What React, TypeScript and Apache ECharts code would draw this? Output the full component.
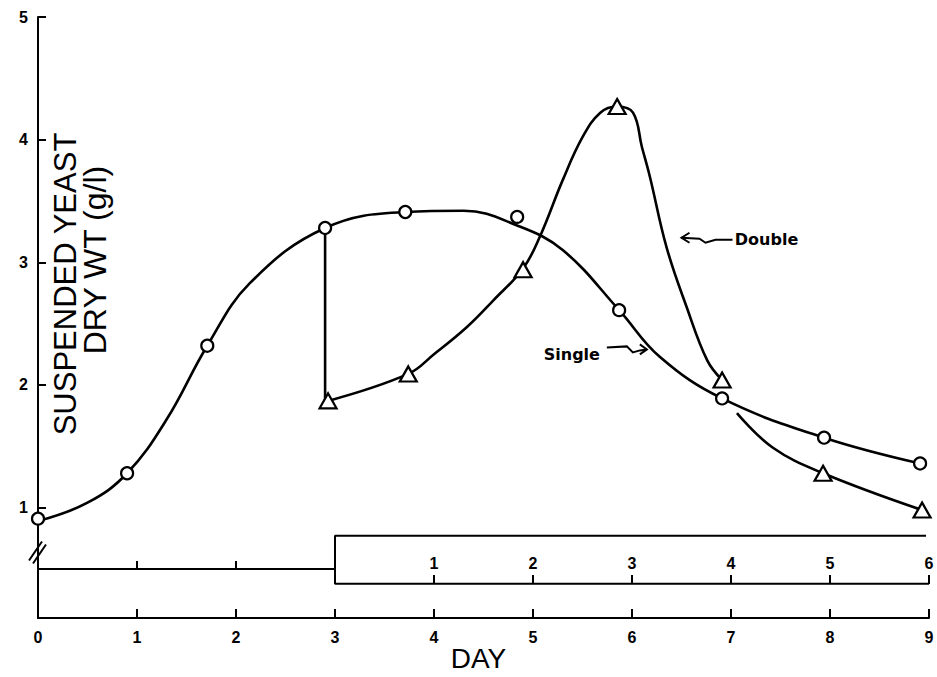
import React, { useEffect, useRef } from "react";
import * as echarts from "echarts";

// ---- tick labels ----
const dayTicks = [0, 1, 2, 3, 4, 5, 6, 7, 8, 9];
const afterTransferTicks = [4, 5, 6, 7, 8, 9];
const afterTransferLabels = ["1", "2", "3", "4", "5", "6"];
const preTransferTicks = [1, 2];
const yTickLabels = ["1", "2", "3", "4", "5"];

// ---- Single fermentation: observations (circles) ----
const singleObsDays = [0, 0.9, 1.71, 2.9, 3.71, 4.84, 5.87, 6.91, 7.94, 8.91];
const singleObsValues = [0.91, 1.28, 2.32, 3.28, 3.41, 3.37, 2.61, 1.89, 1.57, 1.36];

// ---- Single fermentation: drawn curve ----
const singleCurveDays = [0, 0.5, 0.9, 1.3, 1.71, 2.14, 2.9, 3.71, 4.3, 4.84, 5.3, 5.87, 6.28, 6.91, 7.94, 8.91];
const singleCurveValues = [0.89, 1.04, 1.28, 1.72, 2.32, 2.83, 3.28, 3.41, 3.42, 3.3, 3.1, 2.61, 2.23, 1.89, 1.57, 1.36];

// ---- Double fermentation: observations (triangles) ----
const doubleObsDays = [2.93, 3.74, 4.9, 5.85, 6.91, 7.93, 8.93];
const doubleObsValues = [1.87, 2.09, 2.94, 4.27, 2.04, 1.28, 0.98];

// ---- Double fermentation: drawn curve, first part ----
const doubleCurveADays = [2.93, 3.74, 4.0, 4.33, 4.6, 4.9, 5.07, 5.3, 5.5, 5.68, 5.85, 6.01, 6.1, 6.18, 6.35, 6.55, 6.76, 6.91];
const doubleCurveAValues = [1.87, 2.09, 2.25, 2.47, 2.69, 2.95, 3.21, 3.67, 4.02, 4.22, 4.27, 4.22, 3.94, 3.7, 3.12, 2.64, 2.2, 2.04];

// ---- Double fermentation: drawn curve, second part ----
const doubleCurveBDays = [7.06, 7.42, 7.93, 8.93];
const doubleCurveBValues = [1.77, 1.49, 1.28, 0.98];

// ---- Transfer (drop) at day 2.9 ----
const dropDays = [2.9, 2.9];
const dropValues = [3.28, 1.87];

// ---- schematic of the time scale below the break (axis units) ----
const transferDay = 3;
const preTransferLevel = 0.5;
const boxTopLevel = 0.77;
const boxBottomLevel = 0.38;

const yMin = 0.1;
const yMax = 5;
const gridBox = { left: 38, top: 17, width: 891, height: 601 };
const pxPerUnit = gridBox.height / (yMax - yMin);

const zip = (a: number[], b: number[]) => a.map((x, i) => [x, b[i]]);

export default function App() {
  const ref = useRef<HTMLDivElement>(null);
  useEffect(() => {
    if (!ref.current) return;
    const chart = echarts.init(ref.current, null, { renderer: "svg" });
    const black = "#000";
    const tickFont = {
      color: black,
      fontFamily: "Liberation Sans",
      fontWeight: "bold" as const,
      fontSize: 16,
    };
    const curveStyle = { color: black, width: 2.6 };
    const innerOffset = -Math.round((boxBottomLevel - yMin) * pxPerUnit);
    const preOffset = -Math.round((preTransferLevel - yMin) * pxPerUnit);

    const option: any = {
      animation: false,
      backgroundColor: "#fff",
      grid: { ...gridBox, outerBoundsMode: "none" },
      xAxis: [
        {
          type: "value",
          min: 0,
          max: 9,
          interval: 1,
          position: "bottom",
          axisLine: { onZero: false, lineStyle: { color: black, width: 2 } },
          axisTick: { inside: true, length: 9, lineStyle: { color: black, width: 2 } },
          axisLabel: {
            ...tickFont,
            margin: 11,
            formatter: (v: number) => String(dayTicks[Math.round(v)]),
          },
          splitLine: { show: false },
        },
        {
          type: "value",
          min: 0,
          max: 9,
          position: "bottom",
          offset: innerOffset,
          axisLine: { show: false, onZero: false },
          axisTick: {
            inside: true,
            length: 9,
            customValues: afterTransferTicks,
            lineStyle: { color: black, width: 2 },
          },
          axisLabel: {
            ...tickFont,
            inside: true,
            margin: 13,
            customValues: afterTransferTicks,
            formatter: (v: number) => afterTransferLabels[afterTransferTicks.indexOf(Math.round(v))] ?? "",
          },
          splitLine: { show: false },
        },
        {
          type: "value",
          min: 0,
          max: 9,
          position: "bottom",
          offset: preOffset,
          axisLine: { show: false, onZero: false },
          axisTick: {
            inside: true,
            length: 8,
            customValues: preTransferTicks,
            lineStyle: { color: black, width: 2 },
          },
          axisLabel: { show: false },
          splitLine: { show: false },
        },
      ],
      yAxis: {
        type: "value",
        min: yMin,
        max: yMax,
        splitNumber: 5,
        axisLine: { onZero: false, lineStyle: { color: black, width: 2 } },
        axisTick: { inside: true, length: 8, lineStyle: { color: black, width: 2 } },
        axisLabel: {
          ...tickFont,
          margin: 10,
          showMinLabel: false,
          formatter: (v: number) =>
            Math.abs(v - Math.round(v)) < 1e-6 ? yTickLabels[Math.round(v) - 1] ?? "" : "",
        },
        splitLine: { show: false },
      },
      series: [
        {
          name: "time scale before transfer",
          type: "line",
          silent: true,
          symbol: "none",
          lineStyle: { color: black, width: 2 },
          data: [
            [0, preTransferLevel],
            [transferDay, preTransferLevel],
          ],
          z: 1,
        },
        {
          name: "time scale after transfer",
          type: "line",
          silent: true,
          symbol: "none",
          lineStyle: { color: black, width: 2 },
          data: [
            [8.97, boxTopLevel],
            [transferDay, boxTopLevel],
            [transferDay, boxBottomLevel],
            [9, boxBottomLevel],
          ],
          z: 1,
        },
        {
          name: "Single curve",
          type: "line",
          smooth: 0.4,
          symbol: "none",
          lineStyle: curveStyle,
          data: zip(singleCurveDays, singleCurveValues),
          z: 2,
        },
        {
          name: "Transfer",
          type: "line",
          symbol: "none",
          lineStyle: curveStyle,
          data: zip(dropDays, dropValues),
          z: 2,
        },
        {
          name: "Double curve",
          type: "line",
          smooth: 0.4,
          symbol: "none",
          lineStyle: curveStyle,
          data: zip(doubleCurveADays, doubleCurveAValues),
          z: 2,
        },
        {
          name: "Double curve 2",
          type: "line",
          smooth: 0.4,
          symbol: "none",
          lineStyle: curveStyle,
          data: zip(doubleCurveBDays, doubleCurveBValues),
          z: 2,
        },
        {
          name: "Single",
          type: "scatter",
          symbol: "circle",
          symbolSize: 12,
          itemStyle: { color: "#fff", borderColor: black, borderWidth: 2.2, opacity: 1 },
          data: zip(singleObsDays, singleObsValues),
          z: 5,
        },
        {
          name: "Double",
          type: "scatter",
          symbol: "triangle",
          symbolSize: [17, 15],
          itemStyle: { color: "#fff", borderColor: black, borderWidth: 2.2, opacity: 1 },
          data: zip(doubleObsDays, doubleObsValues),
          z: 5,
        },
      ],
    };
    chart.setOption(option);

    const px = (d: number, v: number) =>
      chart.convertToPixel({ xAxisIndex: 0, yAxisIndex: 0 }, [d, v]) as number[];
    const lineStyle = { stroke: black, lineWidth: 2, fill: null };
    const rel = (o: number[], pts: number[][]) => pts.map(([x, y]) => [o[0] + x, o[1] + y]);

    const sTip = px(6.15, 2.29);
    const dTip = px(6.5, 3.2);
    const brk = px(0, 0.65);
    const dayPos = px(4.45, yMin);
    const labelFont = { fontFamily: "DejaVu Sans", fontWeight: "bold", fontSize: 16 };
    const centered = {
      align: "center",
      verticalAlign: "middle",
      textAlign: "center",
      textVerticalAlign: "middle",
    };

    chart.setOption({
      graphic: [
        {
          type: "text",
          x: dayPos[0],
          y: dayPos[1] + 40,
          style: {
            text: "DAY",
            fill: black,
            fontFamily: "Liberation Sans",
            fontSize: 28,
            ...centered,
          },
        },
        {
          type: "text",
          x: 65,
          y: 284,
          rotation: Math.PI / 2,
          style: {
            text: "SUSPENDED YEAST",
            fill: black,
            fontFamily: "Liberation Sans",
            fontSize: 31,
            ...centered,
          },
        },
        {
          type: "text",
          x: 95,
          y: 260,
          rotation: Math.PI / 2,
          style: {
            text: "DRY WT (g/l)",
            fill: black,
            fontFamily: "Liberation Sans",
            fontSize: 32,
            ...centered,
          },
        },
        {
          type: "text",
          x: sTip[0] - 75,
          y: sTip[1] + 5,
          style: { text: "Single", fill: black, ...labelFont, ...centered },
        },
        {
          type: "polyline",
          shape: { points: rel(sTip, [[-40, -2], [-20, -3], [-14, 3], [-7, 1], [0, 0]]) },
          style: lineStyle,
        },
        {
          type: "polyline",
          shape: { points: rel(sTip, [[-7, -5], [0, 0], [-7, 5]]) },
          style: lineStyle,
        },
        {
          type: "text",
          x: dTip[0] + 85,
          y: dTip[1] + 2,
          style: { text: "Double", fill: black, ...labelFont, ...centered },
        },
        {
          type: "polyline",
          shape: { points: rel(dTip, [[0, 0], [18, 1], [24, 5], [34, 2], [51, 2]]) },
          style: lineStyle,
        },
        {
          type: "polyline",
          shape: { points: rel(dTip, [[8, -5], [0, 0], [8, 5]]) },
          style: lineStyle,
        },
        {
          type: "line",
          shape: { x1: brk[0] - 9, y1: brk[1] + 10, x2: brk[0] + 4, y2: brk[1] - 9 },
          style: lineStyle,
        },
        {
          type: "line",
          shape: { x1: brk[0] - 5, y1: brk[1] + 13, x2: brk[0] + 8, y2: brk[1] - 6 },
          style: lineStyle,
        },
      ],
    });

    return () => chart.dispose();
  }, []);

  return (
    <div
      ref={ref}
      style={{ position: "absolute", left: 0, top: 0, width: 937, height: 677, background: "#fff" }}
    />
  );
}
